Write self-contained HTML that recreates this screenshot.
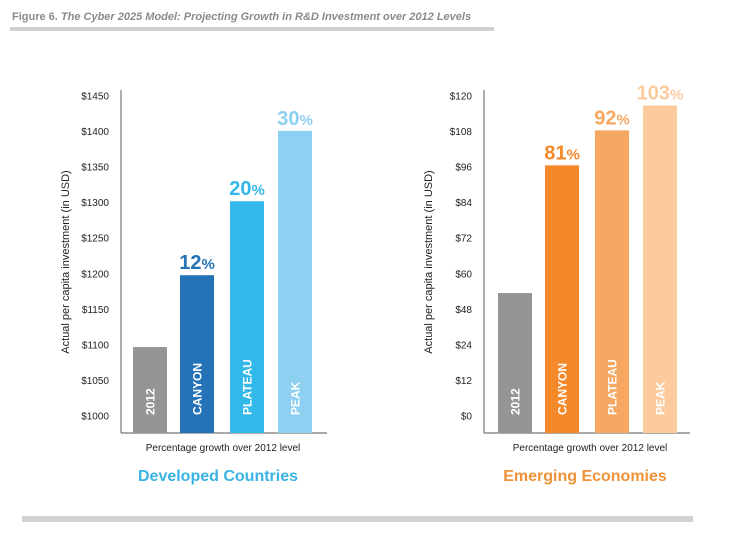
<!DOCTYPE html>
<html><head><meta charset="utf-8"><style>
body{margin:0;background:#fff;width:731px;height:530px;overflow:hidden;font-family:"Liberation Sans",sans-serif}
</style></head><body>
<svg id="svg" width="731" height="530" xmlns="http://www.w3.org/2000/svg">
<text x="12" y="20" font-size="11" font-weight="bold" font-style="italic" fill="#8a8a8a"><tspan font-style="normal">Figure 6.</tspan> The Cyber 2025 Model: Projecting Growth in R&amp;D Investment over 2012 Levels</text>
<rect x="10" y="27" width="484" height="4" fill="#cfcfcf"/>
<rect x="22" y="516" width="671" height="6" fill="#d2d2d2"/>
<g id="left"></g>
<g id="right"></g>
</svg>
<script>
const categories=["2012","CANYON","PLATEAU","PEAK"];
const devValues=[1097,1198,1302,1401];
const devPct=["","12","20","30"];
const devTicks=[1000,1050,1100,1150,1200,1250,1300,1350,1400,1450];
const devTickLabels=["$1000","$1050","$1100","$1150","$1200","$1250","$1300","$1350","$1400","$1450"];
const emgValues=[41.5,84.6,96.4,104.8];
const emgPct=["","81","92","103"];
const emgTicks=[0,12,24,36,48,60,72,84,96,108];
const emgTickLabels=["$0","$12","$24","$48","$60","$72","$84","$96","$108","$120"];
const NS="http://www.w3.org/2000/svg";
function mk(p,t,a){const e=document.createElementNS(NS,t);for(const k in a)e.setAttribute(k,a[k]);p.appendChild(e);return e;}
function chart(g,ax,barX,values,pct,ticks,labels,y0,y1,colors,title,titleColor,cx){
  const yS=v=>416-(v-y0)/(y1-y0)*320;
  const l1=mk(g,'line',{x1:ax,y1:90,x2:ax,y2:433,stroke:'#777','stroke-width':1.2});
  
  
  const l2=mk(g,'line',{x1:ax,y1:433,x2:ax+206,y2:433,stroke:'#777','stroke-width':1.2});
  
  
  ticks.forEach((t,i)=>{const e=mk(g,'text',{x:ax-12,y:yS(t)+3.5,'font-size':10,'text-anchor':'end',fill:'#222'});e.textContent=labels[i];
    
    });
  const yt=mk(g,'text',{x:0,y:0,'font-size':11,'text-anchor':'middle',fill:'#222',transform:`translate(${ax-52},262) rotate(-90)`});
  yt.textContent='Actual per capita investment (in USD)';
  
  
  values.forEach((v,i)=>{
    const x=barX[i],top=yS(v);
    const r=mk(g,'rect',{x:x,y:top,width:34,height:433-top,fill:colors[i]});
    
    
    const c=mk(g,'text',{x:0,y:0,'font-size':12,'font-weight':'bold',fill:'#fff',transform:`translate(${x+21.5},415) rotate(-90)`});
    c.textContent=categories[i];
    
    
    if(pct[i]){const p=mk(g,'text',{x:x+17,y:top-6,'font-size':20,'font-weight':'bold','text-anchor':'middle',fill:colors[i]});
      p.innerHTML=pct[i]+'<tspan font-size="15">%</tspan>';
      
      }
  });
  const xc=mk(g,'text',{x:cx,y:451,'font-size':10,'text-anchor':'middle',fill:'#222'});
  xc.textContent='Percentage growth over 2012 level';
  
  
  const tt=mk(g,'text',{x:cx-5,y:481,'font-size':16,'font-weight':'bold','text-anchor':'middle',fill:titleColor});
  tt.textContent=title;
  
  
}
chart(document.getElementById('left'),121,[133,180,230,278],devValues,devPct,devTicks,devTickLabels,1000,1450,['#959595','#2472b7','#33b8ea','#8ed0f1'],'Developed Countries','#3ab3e3',223);
chart(document.getElementById('right'),484,[498,545,595,643],emgValues,emgPct,emgTicks,emgTickLabels,0,108,['#959595','#f5892a','#f6a862','#fbcb9e'],'Emerging Economies','#f0913a',590);
</script>
</body></html>
